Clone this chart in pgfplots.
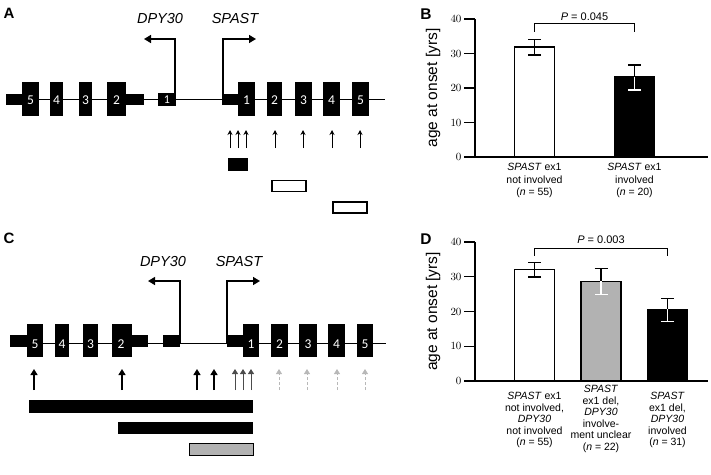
\documentclass[border=0pt]{standalone}
\usepackage{pgfplots}
\pgfplotsset{compat=1.18}
\usepackage{fontspec}
\setmainfont{Liberation Sans}
\newfontfamily\calib{Carlito}
\usetikzlibrary{arrows.meta}
\definecolor{barGray}{gray}{0.7}
\definecolor{arrGray}{gray}{0.72}
\definecolor{darkArr}{gray}{0.3}
% rectangle as a pgfplots plot
\newcommand\rect[5]{\addplot[#5] coordinates {(#1,#3)(#2,#3)(#2,#4)(#1,#4)} -- cycle;}
\newcommand\exnum[3]{\node[text=white,font=\calib\fontsize{13.5}{13.5}\selectfont] at (axis cs:#1,#2) {#3};}
\newcommand\fs[1]{\fontsize{#1}{#1}\selectfont}
\pgfplotsset{
  blackerr/.style={error bars/.cd, y explicit, error bar style={black, line width=1.3pt},
     error mark options={rotate=90, mark size=6.5pt, line width=1.3pt, black}},
  whiteerr/.style={error bars/.cd, y explicit, error bar style={white, line width=1.3pt},
     error mark options={rotate=90, mark size=6.5pt, line width=1.3pt, white}},
  mybar/.style={ybar, bar width=40, bar shift=0pt, draw=black, line width=1.3pt, fill=#1},
  baraxis/.style={width=233pt, scale only axis,
    xmin=0, xmax=233, ymin=0, ymax=40, axis lines*=left, clip=false,
    ytick={0,10,20,30,40}, xtick=\empty, tick align=outside, major tick length=11pt,
    axis line style={line width=1.3pt}, every tick/.style={black, line width=1.3pt},
    yticklabel style={font=\fs{11}, xshift=1pt},
    ylabel={age at onset [yrs]}, ylabel style={font=\fs{15.5}, at={(axis description cs:-0.18,0.5)}, anchor=center}}
}
\begin{document}
\begin{tikzpicture}
\useasboundingbox (0,0) rectangle (711pt,-474pt);
%================ gene diagrams (A and C) =================
\begin{axis}[at={(0,0)}, anchor=north west, width=711pt, height=474pt, scale only axis,
  xmin=0, xmax=711, ymin=0, ymax=474, y dir=reverse, hide axis, clip=false]
% ---------- Panel A ----------
\node[font=\bfseries\fs{15}] at (axis cs:9,13) {A};
\addplot[black, line width=0.9pt] coordinates {(6,99)(385,99)};
% DPY30 (reverse strand)
\rect{6}{22}{94}{105}{fill=black,draw=none}
\rect{22}{39}{82}{116}{fill=black,draw=none}
\rect{50}{63}{82}{116}{fill=black,draw=none}
\rect{79}{92}{82}{116}{fill=black,draw=none}
\rect{107}{126}{82}{116}{fill=black,draw=none}
\rect{126}{144}{94}{105}{fill=black,draw=none}
\rect{158}{176}{93}{106}{fill=black,draw=none}
\exnum{30.5}{100}{5}\exnum{56.5}{100}{4}\exnum{85.5}{100}{3}\exnum{116.5}{100}{2}
\node[text=white,font=\calib\fs{12}] at (axis cs:167,99.5) {1};
% SPAST
\rect{222}{238}{94}{105}{fill=black,draw=none}
\rect{238}{255}{82}{116}{fill=black,draw=none}
\rect{267}{282}{82}{116}{fill=black,draw=none}
\rect{295}{312}{82}{116}{fill=black,draw=none}
\rect{323}{340}{82}{116}{fill=black,draw=none}
\rect{352}{369}{82}{116}{fill=black,draw=none}
\exnum{246.5}{100}{1}\exnum{274.5}{100}{2}\exnum{303.5}{100}{3}\exnum{331.5}{100}{4}\exnum{360.5}{100}{5}
% promoter arrows
\addplot[black, line width=1.5pt, -{Triangle[length=7pt,width=8pt]}] coordinates {(175,99)(175,39)(144,39)};
\addplot[black, line width=1.5pt, -{Triangle[length=7pt,width=8pt]}] coordinates {(223,99)(223,39)(256,39)};
\node[font=\itshape\fs{14.5}] at (axis cs:160,19) {DPY30};
\node[font=\itshape\fs{14.5}] at (axis cs:235,19) {SPAST};
% breakpoint arrows
\foreach \xx in {230,238,246,275,303,332,360}{
  \edef\tmp{\noexpand\addplot[black, line width=0.8pt, -{Stealth[length=5pt,width=5pt]}] coordinates {(\xx,148)(\xx,130)};}\tmp
}
% deletions
\rect{228}{247}{158}{170}{fill=black,draw=black,line width=0.8pt}
\rect{272}{306}{180.5}{191.5}{fill=white,draw=black,line width=1.1pt}
\rect{333}{367}{202}{213}{fill=white,draw=black,line width=1.1pt}
% ---------- Panel C ----------
\node[font=\bfseries\fs{15}] at (axis cs:9,238) {C};
\addplot[black, line width=0.9pt] coordinates {(10,343)(386,343)};
\rect{10}{27}{335}{347}{fill=black,draw=none}
\rect{27}{43}{324}{357}{fill=black,draw=none}
\rect{55}{69}{324}{357}{fill=black,draw=none}
\rect{83}{98}{324}{357}{fill=black,draw=none}
\rect{112}{132}{324}{357}{fill=black,draw=none}
\rect{132}{148}{335}{347}{fill=black,draw=none}
\rect{163}{180}{335}{347}{fill=black,draw=none}
\exnum{35}{344}{5}\exnum{62}{344}{4}\exnum{90.5}{344}{3}\exnum{121}{344}{2}
\rect{227}{243}{335}{347}{fill=black,draw=none}
\rect{243}{259}{324}{357}{fill=black,draw=none}
\rect{271}{288}{324}{357}{fill=black,draw=none}
\rect{299}{317}{324}{357}{fill=black,draw=none}
\rect{328}{345}{324}{357}{fill=black,draw=none}
\rect{357}{373}{324}{357}{fill=black,draw=none}
\exnum{251}{344}{1}\exnum{279.5}{344}{2}\exnum{308}{344}{3}\exnum{336.5}{344}{4}\exnum{365}{344}{5}
\addplot[black, line width=1.5pt, -{Triangle[length=7pt,width=8pt]}] coordinates {(180,343)(180,281)(148,281)};
\addplot[black, line width=1.5pt, -{Triangle[length=7pt,width=8pt]}] coordinates {(227,343)(227,281)(260,281)};
\node[font=\itshape\fs{14.5}] at (axis cs:163,261) {DPY30};
\node[font=\itshape\fs{14.5}] at (axis cs:239,261) {SPAST};
\foreach \xx in {34,122,197,214}{
  \edef\tmp{\noexpand\addplot[black, line width=2pt, -{Triangle[length=6pt,width=7pt]}] coordinates {(\xx,390)(\xx,369)};}\tmp
}
\foreach \xx in {235,243,251}{
  \edef\tmp{\noexpand\addplot[darkArr, line width=1pt, -{Triangle[length=5pt,width=6pt]}] coordinates {(\xx,390)(\xx,369)};}\tmp
}
\foreach \xx in {279,307,337,365}{
  \edef\tmp{\noexpand\addplot[arrGray, line width=0.9pt, dashed, dash pattern=on 3pt off 2pt, -{Triangle[length=5pt,width=6pt,fill=arrGray]}] coordinates {(\xx,390)(\xx,369)};}\tmp
}
\rect{29}{253}{400}{413}{fill=black,draw=none}
\rect{118}{253}{422}{434}{fill=black,draw=none}
\rect{189}{253}{443.5}{455.5}{fill=barGray,draw=black,line width=1pt}
\end{axis}
%================ Panel B =================
\begin{axis}[at={(475pt,-157pt)}, anchor=south west, height=138pt, baraxis]
\node[font=\bfseries\fs{15.5}] at (axis cs:-49,41.5) {B};
\addplot[mybar=white, blackerr, y dir=both] coordinates {(59.5,31.9) += (0,2.2) -= (0,2.3)};
\addplot[mybar=black, blackerr, y dir=plus] coordinates {(159.5,23.2) += (0,3.5) -= (0,3.8)};
\addplot[mybar=black, whiteerr, y dir=minus] coordinates {(159.5,23.2) += (0,3.5) -= (0,3.8)};
\addplot[black, line width=1pt] coordinates {(59.5,36.3)(59.5,38.6)(159.5,38.6)(159.5,36.3)};
\node[font=\fs{11}] at (axis cs:109.5,40.6) {\textit{P} = 0.045};
\node[font=\fs{10.5}, align=center, anchor=north, inner sep=0pt] at (axis cs:59.5,-1.8)
  {\textit{SPAST} ex1\\[2pt]not involved\\[2pt](\textit{n} = 55)};
\node[font=\fs{10.5}, align=center, anchor=north, inner sep=0pt] at (axis cs:159.5,-1.8)
  {\textit{SPAST} ex1\\[2pt]involved\\[2pt](\textit{n} = 20)};
\end{axis}
%================ Panel D =================
\begin{axis}[at={(475pt,-381pt)}, anchor=south west, height=139pt, baraxis]
\node[font=\bfseries\fs{15.5}] at (axis cs:-49,40.8) {D};
\addplot[mybar=white, blackerr, y dir=both] coordinates {(59.5,32.1) += (0,2.1) -= (0,2.2)};
\addplot[mybar=barGray, blackerr, y dir=plus] coordinates {(126,28.7) += (0,3.7) -= (0,3.8)};
\addplot[mybar=barGray, whiteerr, y dir=minus] coordinates {(126,28.7) += (0,3.7) -= (0,3.8)};
\addplot[mybar=black, blackerr, y dir=plus] coordinates {(192.5,20.6) += (0,3.2) -= (0,3.4)};
\addplot[mybar=black, whiteerr, y dir=minus] coordinates {(192.5,20.6) += (0,3.2) -= (0,3.4)};
\addplot[black, line width=1pt] coordinates {(59.5,36.1)(59.5,38.0)(192.5,38.0)(192.5,36.1)};
\node[font=\fs{11}] at (axis cs:126,40.6) {\textit{P} = 0.003};
\node[font=\fs{10.5}, align=center, anchor=north, inner sep=0pt] at (axis cs:59.5,-3.2)
  {\textit{SPAST} ex1\\[1pt]not involved,\\[1pt]\textit{DPY30}\\[1pt]not involved\\[1pt](\textit{n} = 55)};
\node[font=\fs{10.5}, align=center, anchor=north, inner sep=0pt] at (axis cs:126,-1.2)
  {\textit{SPAST}\\[1pt]ex1 del,\\[1pt]\textit{DPY30}\\[1pt]involve-\\[1pt]ment unclear\\[1pt](\textit{n} = 22)};
\node[font=\fs{10.5}, align=center, anchor=north, inner sep=0pt] at (axis cs:192.5,-3.2)
  {\textit{SPAST}\\[1pt]ex1 del,\\[1pt]\textit{DPY30}\\[1pt]involved\\[1pt](\textit{n} = 31)};
\end{axis}
\end{tikzpicture}
\end{document}
